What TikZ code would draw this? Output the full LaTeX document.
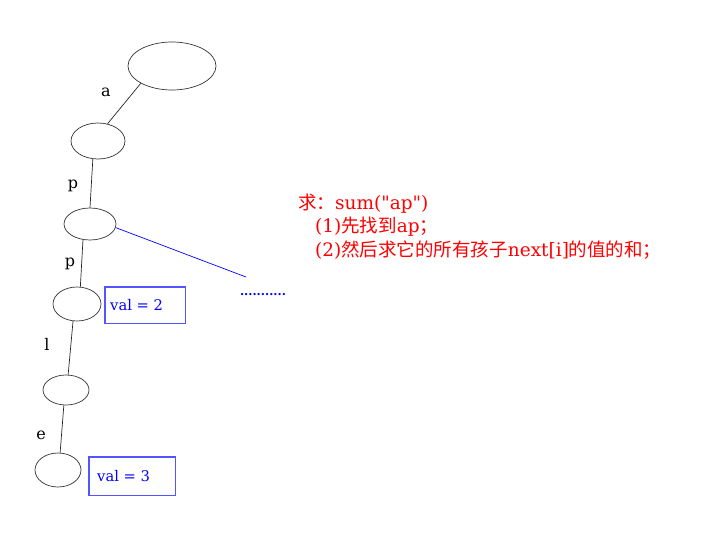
\documentclass[tikz,border=0pt]{standalone}
\usepackage{fontspec}
\usetikzlibrary{shapes.geometric}
\setmainfont{DejaVu Serif}
\newfontfamily\plainserif{DejaVu Serif}
\newfontfamily\cjk{Noto Sans CJK SC}
\definecolor{boxblue}{RGB}{85,85,255}
\definecolor{txtblue}{RGB}{0,0,255}
\begin{document}
\begin{tikzpicture}[x=1pt,y=-1pt,
  tnode/.style={draw=black!80,ellipse,line width=0.7pt,inner sep=0pt},
  edge/.style={draw=black!85,line width=0.7pt},
  lbl/.style={font=\fontsize{16}{18}\selectfont},
  valbox/.style={anchor=north west,inner sep=0pt},
  frame/.style={color=boxblue,line width=1.1pt,line join=miter},
  valtext/.style={anchor=west,inner sep=0pt,font=\fontsize{14.7}{17}\selectfont},
  note/.style={anchor=north west,inner sep=0pt,font=\plainserif\fontsize{18.5}{20}\selectfont}]
\useasboundingbox (0,0) rectangle (714,543);
\node[valbox,minimum width=80pt,minimum height=36pt] (v2) at (105,287) {};
\node[valbox,minimum width=86pt,minimum height=38pt] (v3) at (89,457) {};
\draw[frame] (v2.north west) -- (v2.north east) -- (v2.south east) -- (v2.south west) -- cycle;
\draw[frame] (v3.north west) -- (v3.north east) -- (v3.south east) -- (v3.south west) -- cycle;
\node[tnode,minimum width=88pt,minimum height=48pt] (r) at (172,66) {};
\node[tnode,minimum width=54pt,minimum height=36pt] (n1) at (98,141) {};
\node[tnode,minimum width=52pt,minimum height=32pt] (n2) at (90,224) {};
\node[tnode,minimum width=48pt,minimum height=34pt] (n3) at (77,304) {};
\node[tnode,minimum width=46pt,minimum height=30pt] (n4) at (66,390) {};
\node[tnode,minimum width=46pt,minimum height=34pt] (n5) at (58,470) {};
\draw[edge] (r.209) -- (n1.61);
\draw[edge] (n1.254) -- (n2.90);
\draw[edge] (n2.246) -- (n3.79);
\draw[edge] (n3.257) -- (n4.82);
\draw[edge] (n4.262) -- (n5.83);
\coordinate (b2) at (246,277);
\draw[txtblue,line width=0.7pt] (n2.352) -- (b2);
\node[lbl] (la) at (106,92) {a};
\node[lbl] (lp1) at (73,186) {p};
\node[lbl] (lp2) at (70,264) {p};
\node[lbl] (ll) at (47,344) {l};
\node[lbl] (le) at (41,435) {e};
\node[valtext] (v2t) at ([xshift=5pt]v2.west) {\color{txtblue}val = 2};
\node[valtext] (v3t) at ([xshift=8pt]v3.west) {\color{txtblue}val = 3};
\node[font=\bfseries\fontsize{12}{14}\selectfont,inner sep=0pt] (dots) at (263,295) {\color{txtblue}...........};
\node[note] (t1) at (298,194) {\color{red}{\cjk 求：}sum("ap")};
\node[note] (t2) at (315,217) {\color{red}(1){\cjk 先找到}ap{\cjk ；}};
\node[note] (t3) at (315,241) {\color{red}(2){\cjk 然后求它的所有孩子}next[i]{\cjk 的值的和；}};
\end{tikzpicture}
\end{document}
